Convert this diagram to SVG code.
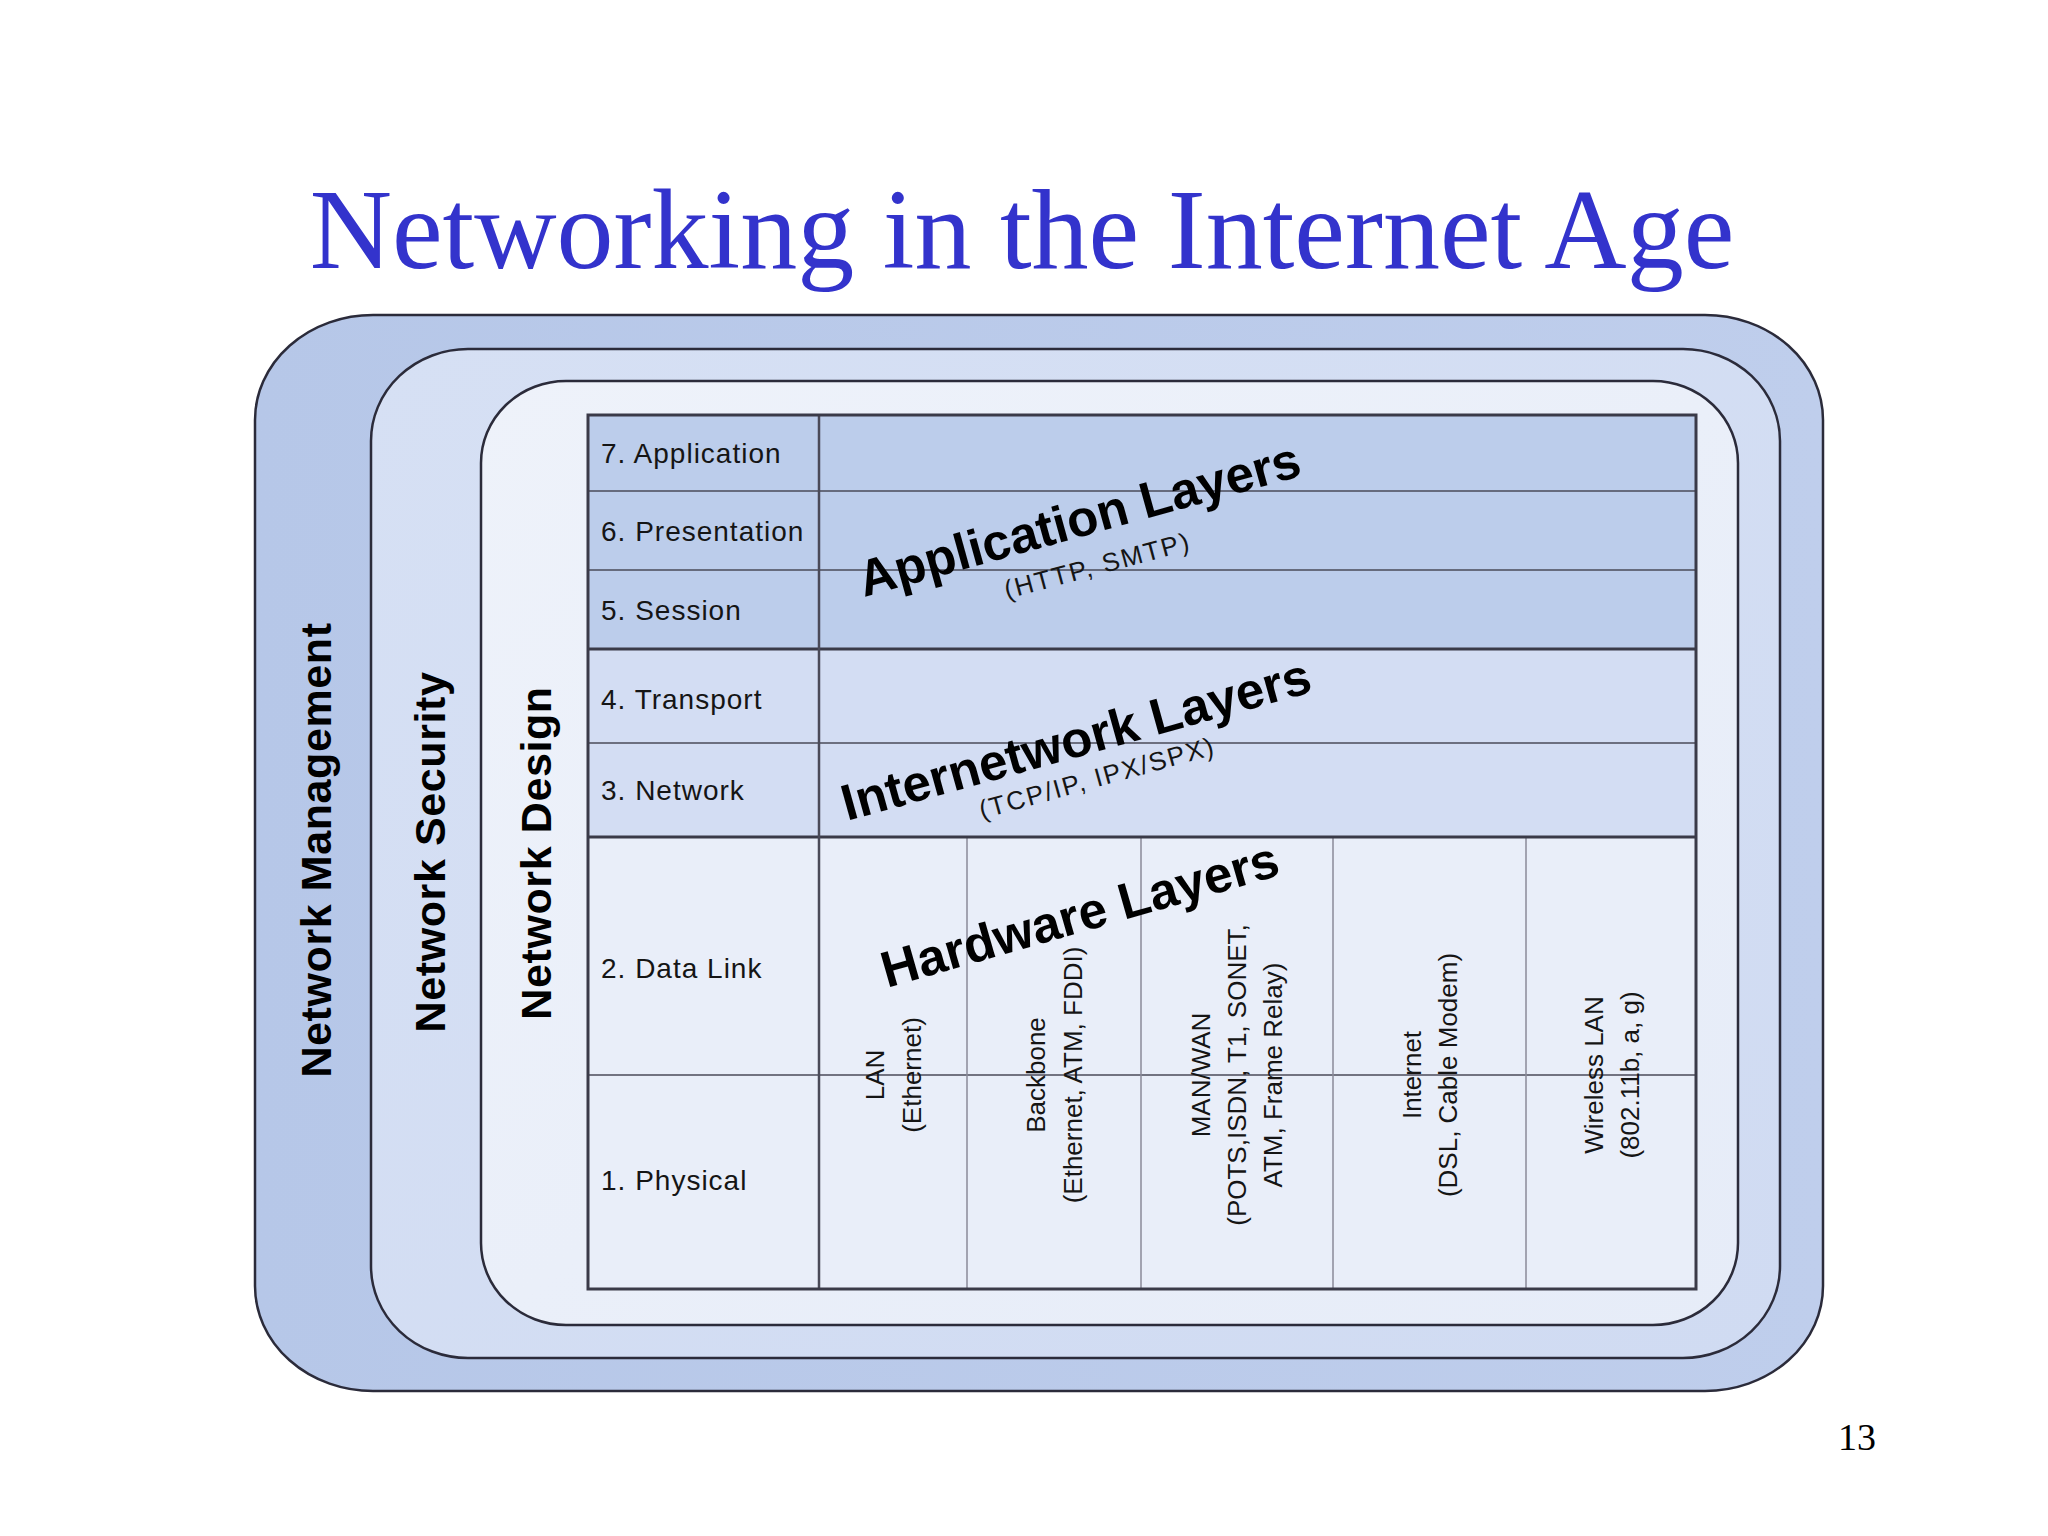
<svg xmlns="http://www.w3.org/2000/svg" width="2048" height="1536" viewBox="0 0 2048 1536">
<defs>
<style>
.ring{stroke:#2b2b3a;stroke-width:2.5}
.lbl{font-family:"Liberation Sans",Arial,sans-serif;font-size:28px;fill:#151515;letter-spacing:1px}
.vt{font-family:"Liberation Sans",Arial,sans-serif;font-weight:bold;font-size:43px;fill:#000;letter-spacing:0.6px;text-anchor:middle}
.big{font-family:"Liberation Sans",Arial,sans-serif;font-weight:bold;font-size:51px;fill:#000}
.small{font-family:"Liberation Sans",Arial,sans-serif;font-size:26px;fill:#151515}
.hw{font-family:"Liberation Sans",Arial,sans-serif;font-size:26px;fill:#151515;text-anchor:middle}
.grid{stroke:#4a4a58;stroke-width:1.5;fill:none}
.thick{stroke:#3a3a48;stroke-width:3;fill:none}
.thin{stroke:#8a8a98;stroke-width:1.5}
</style>
<linearGradient id="gOuter" x1="0" y1="0" x2="1" y2="0">
<stop offset="0" stop-color="#B6C7E8"/>
<stop offset="1" stop-color="#BFCEEC"/>
</linearGradient>
<linearGradient id="gSec" x1="0" y1="0" x2="1" y2="1">
<stop offset="0" stop-color="#D6E0F4"/>
<stop offset="1" stop-color="#D0DBF2"/>
</linearGradient>
<linearGradient id="gDes" x1="0" y1="0" x2="1" y2="1">
<stop offset="0" stop-color="#EEF2FA"/>
<stop offset="1" stop-color="#E6ECF8"/>
</linearGradient>
</defs>
<rect x="0" y="0" width="2048" height="1536" fill="#FFFFFF"/>

<g id="title">
<text x="1022" y="268" text-anchor="middle" font-family="'Liberation Serif','Times New Roman',serif" font-size="114" fill="#3333CC">Networking in the Internet Age</text>
</g>

<g id="network-management">
<rect class="ring" x="255" y="315" width="1568" height="1076" rx="118" ry="105" fill="url(#gOuter)"/>
<text class="vt" transform="translate(331,850) rotate(-90)">Network Management</text>
</g>

<g id="network-security">
<rect class="ring" x="371" y="349" width="1409" height="1009" rx="97" ry="92" fill="url(#gSec)"/>
<text class="vt" transform="translate(445,852) rotate(-90)">Network Security</text>
</g>

<g id="network-design">
<rect class="ring" x="481" y="381" width="1257" height="944" rx="85" ry="82" fill="url(#gDes)"/>
<text class="vt" transform="translate(551,853) rotate(-90)">Network Design</text>
</g>

<g id="osi-table">
<rect x="588" y="415" width="1108" height="234" fill="#BCCDEB"/>
<rect x="588" y="649" width="1108" height="188" fill="#D3DDF3"/>
<rect x="588" y="837" width="1108" height="452" fill="#E9EEF9"/>
<line class="grid" x1="588" y1="491" x2="1696" y2="491"/>
<line class="grid" x1="588" y1="570" x2="1696" y2="570"/>
<line class="grid" x1="588" y1="743" x2="1696" y2="743"/>
<line class="grid" x1="588" y1="1075" x2="1696" y2="1075"/>
<line class="thin" x1="967" y1="837" x2="967" y2="1289"/>
<line class="thin" x1="1141" y1="837" x2="1141" y2="1289"/>
<line class="thin" x1="1333" y1="837" x2="1333" y2="1289"/>
<line class="thin" x1="1526" y1="837" x2="1526" y2="1289"/>
<line class="thick" x1="588" y1="649" x2="1696" y2="649"/>
<line class="thick" x1="588" y1="837" x2="1696" y2="837"/>
<line class="grid" x1="819" y1="415" x2="819" y2="1289" style="stroke-width:2.5"/>
<rect class="thick" x="588" y="415" width="1108" height="874"/>
</g>

<g id="layer-labels">
<text class="lbl" x="601" y="463">7. Application</text>
<text class="lbl" x="601" y="541">6. Presentation</text>
<text class="lbl" x="601" y="620">5. Session</text>
<text class="lbl" x="601" y="709">4. Transport</text>
<text class="lbl" x="601" y="800">3. Network</text>
<text class="lbl" x="601" y="978">2. Data Link</text>
<text class="lbl" x="601" y="1190">1. Physical</text>
</g>

<g id="application-layers">
<text class="big" transform="translate(864,597) rotate(-15.5)">Application Layers</text>
<text class="small" transform="translate(1007,599) rotate(-15)" textLength="190" lengthAdjust="spacing">(HTTP, SMTP)</text>
</g>

<g id="internetwork-layers">
<text class="big" transform="translate(847,821) rotate(-15.5)">Internetwork Layers</text>
<text class="small" transform="translate(982,819) rotate(-15.5)" textLength="242" lengthAdjust="spacing">(TCP/IP, IPX/SPX)</text>
</g>

<g id="hardware-layers">
<text class="big" transform="translate(887,988) rotate(-16)">Hardware Layers</text>
</g>

<g id="hw-lan">
<text class="hw" transform="translate(884,1075) rotate(-90)"><tspan x="0" y="0">LAN</tspan><tspan x="0" y="37">(Ethernet)</tspan></text>
</g>
<g id="hw-backbone">
<text class="hw" transform="translate(1045,1075) rotate(-90)"><tspan x="0" y="0">Backbone</tspan><tspan x="0" y="37">(Ethernet, ATM, FDDI)</tspan></text>
</g>
<g id="hw-manwan">
<text class="hw" transform="translate(1210,1075) rotate(-90)"><tspan x="0" y="0">MAN/WAN</tspan><tspan x="0" y="36">(POTS,ISDN, T1, SONET,</tspan><tspan x="0" y="72">ATM, Frame Relay)</tspan></text>
</g>
<g id="hw-internet">
<text class="hw" transform="translate(1421,1075) rotate(-90)"><tspan x="0" y="0">Internet</tspan><tspan x="0" y="36">(DSL, Cable Modem)</tspan></text>
</g>
<g id="hw-wireless">
<text class="hw" transform="translate(1603,1075) rotate(-90)"><tspan x="0" y="0">Wireless LAN</tspan><tspan x="0" y="36">(802.11b, a, g)</tspan></text>
</g>

<g id="connectors"></g>

<g id="page-number">
<text x="1838" y="1450" font-family="'Liberation Serif','Times New Roman',serif" font-size="38" fill="#000">13</text>
</g>
</svg>
